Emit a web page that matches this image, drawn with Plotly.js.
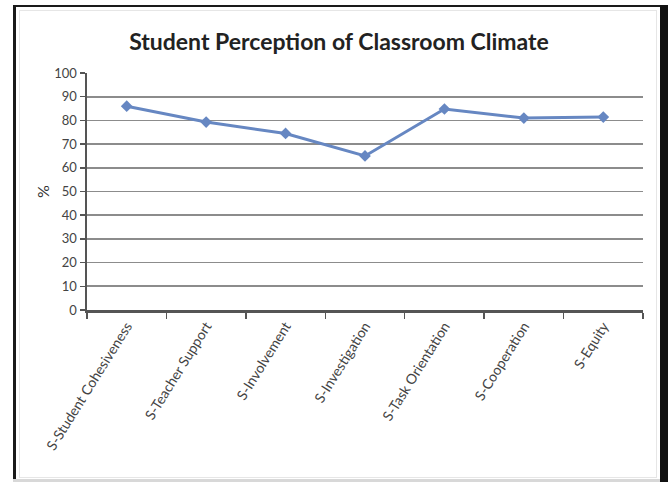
<!DOCTYPE html>
<html>
<head>
<meta charset="utf-8">
<script src="https://cdn.plot.ly/plotly-3.0.1.min.js"></script>
<style>
  html, body { margin: 0; padding: 0; background: #ffffff; }
  #wrap { position: relative; width: 668px; height: 482px; overflow: hidden; }
  #chart { position: absolute; left: 0; top: 0; width: 668px; height: 482px; }
  .frame { position: absolute; pointer-events: none; }
</style>
</head>
<body>
<div id="wrap">
  <div id="chart"></div>
  <div class="frame" style="left:13px; top:5px; width:3px; height:477px; background:#1a1a1a;"></div>
  <div class="frame" style="left:13px; top:5px; width:655px; height:2px; background:#1a1a1a;"></div>
  <div class="frame" style="left:660px; top:5px; width:8px; height:477px; background:#111;"></div>
  <div class="frame" style="left:13px; top:479px; width:647px; height:3px; background:#d8d8d8;"></div>
  <div class="frame" style="left:19px; top:10px; width:636px; height:466px; border:1px solid #e6e6e6;"></div>
</div>
<script>
const categories = [
  "S-Student Cohesiveness",
  "S-Teacher Support",
  "S-Involvement",
  "S-Investigation",
  "S-Task Orientation",
  "S-Cooperation",
  "S-Equity"
];
const values = [86, 79.3, 74.5, 65, 84.8, 81, 81.4];
const yTicks = [0, 10, 20, 30, 40, 50, 60, 70, 80, 90, 100];
const chartTitle = "Student Perception of Classroom Climate";
const yTitle = "%";

const trace = {
  type: "scatter",
  mode: "lines+markers",
  x: categories,
  y: values,
  line: { color: "#6687c2", width: 3 },
  marker: { symbol: "diamond", size: 9, color: "#6687c2" },
  hoverinfo: "x+y"
};

const layout = {
  width: 668,
  height: 482,
  margin: { l: 87, r: 25, t: 73, b: 172 },
  paper_bgcolor: "rgba(0,0,0,0)",
  plot_bgcolor: "rgba(0,0,0,0)",
  showlegend: false,
  font: { family: "Lato, 'Open Sans', sans-serif", color: "#333" },
  title: {
    text: "<b>" + chartTitle + "</b>",
    font: { family: "Lato, 'Open Sans', sans-serif", size: 23, color: "#222" },
    xref: "container", yref: "container",
    x: 339 / 668, xanchor: "center",
    y: 1 - 42 / 482, yanchor: "middle"
  },
  xaxis: {
    type: "category",
    range: [-0.5, categories.length - 0.5],
    tickson: "boundaries",
    ticks: "outside",
    ticklen: 6,
    tickwidth: 1.5,
    tickcolor: "#555",
    showline: true,
    linecolor: "#555",
    linewidth: 2.5,
    showgrid: false,
    zeroline: false,
    tickangle: -58,
    tickfont: { size: 14, color: "#444" }
  },
  yaxis: {
    range: [0, 100],
    tickvals: yTicks,
    ticktext: yTicks.map(String),
    ticks: "outside",
    ticklen: 5,
    tickwidth: 1.5,
    tickcolor: "#555",
    showline: true,
    linecolor: "#555",
    linewidth: 2.5,
    showgrid: true,
    gridcolor: "#8c8c8c",
    gridwidth: 1.7,
    zeroline: false,
    tickfont: { size: 13, color: "#444" },
    title: { text: yTitle, font: { size: 16, color: "#333" }, standoff: 1 }
  }
};

Plotly.newPlot("chart", [trace], layout, { displayModeBar: false, staticPlot: true });
</script>
</body>
</html>
